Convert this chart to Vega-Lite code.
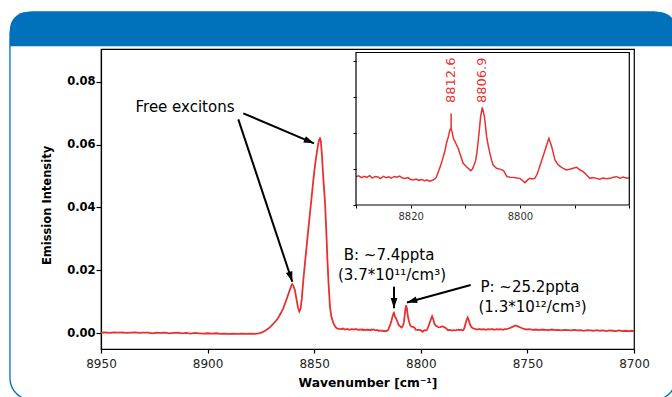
{
  "$schema": "https://vega.github.io/schema/vega-lite/v6.json",
  "width": 533,
  "height": 300,
  "autosize": {"type": "none"},
  "padding": {"left": 101, "top": 49, "right": 38, "bottom": 48},
  "background": "white",
  "config": {
    "font": "DejaVu Sans",
    "view": {"stroke": "black", "strokeWidth": 1.2},
    "axis": {"grid": false, "domainColor": "black", "tickColor": "black"}
  },
  "datasets": {
    "spec": [
      {"w": 8950, "i": 0.0002}, {"w": 8948, "i": 0.0003}, {"w": 8946, "i": 0.0001}, {"w": 8944, "i": 0.0003},
      {"w": 8942, "i": 0.0002}, {"w": 8940, "i": 0.0003}, {"w": 8938, "i": 0.0001}, {"w": 8936, "i": 0.0002},
      {"w": 8934, "i": 0.0003}, {"w": 8932, "i": 0.0001}, {"w": 8930, "i": 0.0002}, {"w": 8928, "i": 0.0002},
      {"w": 8926, "i": 0.0000}, {"w": 8924, "i": 0.0002}, {"w": 8922, "i": 0.0001}, {"w": 8920, "i": 0.0002},
      {"w": 8918, "i": 0.0000}, {"w": 8916, "i": 0.0001}, {"w": 8914, "i": 0.0002}, {"w": 8912, "i": 0.0000},
      {"w": 8910, "i": 0.0001}, {"w": 8908, "i": -0.0001}, {"w": 8906, "i": 0.0001}, {"w": 8904, "i": 0.0000},
      {"w": 8902, "i": -0.0001}, {"w": 8900, "i": 0.0000}, {"w": 8898, "i": -0.0001}, {"w": 8896, "i": 0.0000},
      {"w": 8894, "i": -0.0002}, {"w": 8892, "i": -0.0001}, {"w": 8890, "i": -0.0002}, {"w": 8888, "i": -0.0001},
      {"w": 8886, "i": -0.0002}, {"w": 8884, "i": -0.0001}, {"w": 8882, "i": -0.0002}, {"w": 8880, "i": -0.0001},
      {"w": 8878, "i": -0.0002}, {"w": 8876, "i": 0.0000}, {"w": 8874.5, "i": 0.0003}, {"w": 8873, "i": 0.0008},
      {"w": 8871.5, "i": 0.0015}, {"w": 8870, "i": 0.0024}, {"w": 8868.5, "i": 0.0035}, {"w": 8867, "i": 0.0048},
      {"w": 8865.5, "i": 0.0066}, {"w": 8864.5, "i": 0.0080}, {"w": 8863.5, "i": 0.0098}, {"w": 8862.5, "i": 0.0117},
      {"w": 8861.5, "i": 0.0137}, {"w": 8860.8, "i": 0.0150}, {"w": 8860.3, "i": 0.0156}, {"w": 8859.7, "i": 0.0150},
      {"w": 8859.0, "i": 0.0135}, {"w": 8858.3, "i": 0.0108}, {"w": 8857.6, "i": 0.0082}, {"w": 8857.0, "i": 0.0069},
      {"w": 8856.4, "i": 0.0078}, {"w": 8855.8, "i": 0.0110}, {"w": 8855.1, "i": 0.0170}, {"w": 8854.3, "i": 0.0225},
      {"w": 8853.5, "i": 0.0280}, {"w": 8852.8, "i": 0.0328}, {"w": 8852.0, "i": 0.0380}, {"w": 8851.2, "i": 0.0434},
      {"w": 8850.4, "i": 0.0487}, {"w": 8849.6, "i": 0.0535}, {"w": 8848.8, "i": 0.0574}, {"w": 8848.1, "i": 0.0603},
      {"w": 8847.6, "i": 0.0617}, {"w": 8847.3, "i": 0.0620}, {"w": 8846.9, "i": 0.0612}, {"w": 8846.4, "i": 0.0570},
      {"w": 8845.7, "i": 0.0490}, {"w": 8844.9, "i": 0.0413}, {"w": 8844.3, "i": 0.0320}, {"w": 8843.8, "i": 0.0233},
      {"w": 8843.2, "i": 0.0150}, {"w": 8842.6, "i": 0.0085}, {"w": 8842.0, "i": 0.0055}, {"w": 8841.0, "i": 0.0032},
      {"w": 8840.2, "i": 0.0022}, {"w": 8839.4, "i": 0.0016}, {"w": 8838.5, "i": 0.0014}, {"w": 8837.5, "i": 0.0013},
      {"w": 8836.5, "i": 0.0015}, {"w": 8835.5, "i": 0.0012}, {"w": 8834.5, "i": 0.0014}, {"w": 8833.5, "i": 0.0011},
      {"w": 8832.5, "i": 0.0013}, {"w": 8831.5, "i": 0.0012}, {"w": 8830.5, "i": 0.0014},
      {"w": 8830.0, "i": 0.00116}, {"w": 8829.5, "i": 0.00125}, {"w": 8829.0, "i": 0.00105}, {"w": 8828.5, "i": 0.00120},
      {"w": 8828.0, "i": 0.00108}, {"w": 8827.5, "i": 0.00128}, {"w": 8827.0, "i": 0.00100}, {"w": 8826.5, "i": 0.00118},
      {"w": 8826.0, "i": 0.00112}, {"w": 8825.5, "i": 0.00095}, {"w": 8825.0, "i": 0.00120}, {"w": 8824.5, "i": 0.00105},
      {"w": 8824.0, "i": 0.00115}, {"w": 8823.5, "i": 0.00100}, {"w": 8823.0, "i": 0.00118}, {"w": 8822.5, "i": 0.00110},
      {"w": 8822.0, "i": 0.00122}, {"w": 8821.5, "i": 0.00100}, {"w": 8821.0, "i": 0.00095}, {"w": 8820.5, "i": 0.00105},
      {"w": 8820.0, "i": 0.00085}, {"w": 8819.5, "i": 0.00080}, {"w": 8819.0, "i": 0.00090}, {"w": 8818.5, "i": 0.00075},
      {"w": 8818.0, "i": 0.00085}, {"w": 8817.5, "i": 0.00070}, {"w": 8817.0, "i": 0.00078}, {"w": 8816.5, "i": 0.00065},
      {"w": 8816.0, "i": 0.00075}, {"w": 8815.6, "i": 0.00090}, {"w": 8815.3, "i": 0.00110}, {"w": 8815.0, "i": 0.00160},
      {"w": 8814.6, "i": 0.00227}, {"w": 8814.2, "i": 0.00300}, {"w": 8813.7, "i": 0.00413}, {"w": 8813.4, "i": 0.00500},
      {"w": 8813.1, "i": 0.00562}, {"w": 8812.8, "i": 0.00640}, {"w": 8812.6, "i": 0.00655}, {"w": 8812.4, "i": 0.00610},
      {"w": 8812.2, "i": 0.00543}, {"w": 8811.9, "i": 0.00510}, {"w": 8811.6, "i": 0.00469}, {"w": 8811.3, "i": 0.00430},
      {"w": 8811.0, "i": 0.00376}, {"w": 8810.7, "i": 0.00320}, {"w": 8810.4, "i": 0.00265}, {"w": 8810.0, "i": 0.00240},
      {"w": 8809.7, "i": 0.00220}, {"w": 8809.3, "i": 0.00200}, {"w": 8809.0, "i": 0.00183}, {"w": 8808.7, "i": 0.00200},
      {"w": 8808.4, "i": 0.00246}, {"w": 8808.1, "i": 0.00300}, {"w": 8807.9, "i": 0.00376}, {"w": 8807.7, "i": 0.00480},
      {"w": 8807.5, "i": 0.00599}, {"w": 8807.2, "i": 0.00785}, {"w": 8806.9, "i": 0.00889}, {"w": 8806.5, "i": 0.00785},
      {"w": 8806.1, "i": 0.00562}, {"w": 8805.8, "i": 0.00460}, {"w": 8805.5, "i": 0.00376}, {"w": 8805.2, "i": 0.00300},
      {"w": 8804.9, "i": 0.00246}, {"w": 8804.3, "i": 0.00209}, {"w": 8803.7, "i": 0.00200}, {"w": 8803.0, "i": 0.00183},
      {"w": 8802.7, "i": 0.00150}, {"w": 8802.4, "i": 0.00116}, {"w": 8801.8, "i": 0.00110}, {"w": 8801.2, "i": 0.00108},
      {"w": 8800.6, "i": 0.00100}, {"w": 8800.0, "i": 0.00097}, {"w": 8799.5, "i": 0.00070}, {"w": 8799.1, "i": 0.00049},
      {"w": 8798.6, "i": 0.00080}, {"w": 8798.2, "i": 0.00097}, {"w": 8797.7, "i": 0.00090}, {"w": 8797.3, "i": 0.00097},
      {"w": 8796.9, "i": 0.00140}, {"w": 8796.6, "i": 0.00190}, {"w": 8796.0, "i": 0.00302}, {"w": 8795.4, "i": 0.00413},
      {"w": 8795.0, "i": 0.00490}, {"w": 8794.7, "i": 0.00543}, {"w": 8794.2, "i": 0.00450}, {"w": 8793.6, "i": 0.00302},
      {"w": 8793.0, "i": 0.00246}, {"w": 8792.5, "i": 0.00225}, {"w": 8792.1, "i": 0.00209}, {"w": 8791.5, "i": 0.00190},
      {"w": 8790.9, "i": 0.00198}, {"w": 8790.3, "i": 0.00210}, {"w": 8789.6, "i": 0.00220}, {"w": 8789.0, "i": 0.00190},
      {"w": 8788.5, "i": 0.00175}, {"w": 8788.1, "i": 0.00153}, {"w": 8787.6, "i": 0.00120}, {"w": 8787.2, "i": 0.00097},
      {"w": 8786.6, "i": 0.00105}, {"w": 8786.0, "i": 0.00097}, {"w": 8785.4, "i": 0.00088}, {"w": 8784.8, "i": 0.00100},
      {"w": 8784.2, "i": 0.00092}, {"w": 8783.5, "i": 0.00097}, {"w": 8782.9, "i": 0.00110}, {"w": 8782.3, "i": 0.00116},
      {"w": 8781.7, "i": 0.00100}, {"w": 8781.1, "i": 0.00112}, {"w": 8780.5, "i": 0.00098}, {"w": 8780.0, "i": 0.00105},
      {"w": 8779.5, "i": 0.0018}, {"w": 8779.0, "i": 0.0031}, {"w": 8778.5, "i": 0.0043}, {"w": 8778.0, "i": 0.0050},
      {"w": 8777.5, "i": 0.0041}, {"w": 8777.0, "i": 0.0030}, {"w": 8776.4, "i": 0.0021}, {"w": 8775.6, "i": 0.0016},
      {"w": 8774.6, "i": 0.0014}, {"w": 8773.5, "i": 0.0012}, {"w": 8772.5, "i": 0.0014}, {"w": 8771.5, "i": 0.0012},
      {"w": 8770.5, "i": 0.0013}, {"w": 8769.5, "i": 0.0011}, {"w": 8768.5, "i": 0.0013}, {"w": 8767.5, "i": 0.0012},
      {"w": 8766.5, "i": 0.0014}, {"w": 8765.5, "i": 0.0011}, {"w": 8764.5, "i": 0.0013}, {"w": 8763.5, "i": 0.0012},
      {"w": 8762.5, "i": 0.0013}, {"w": 8761.5, "i": 0.0011}, {"w": 8760.5, "i": 0.0013}, {"w": 8759.5, "i": 0.0014},
      {"w": 8758.5, "i": 0.0016}, {"w": 8757.5, "i": 0.0019}, {"w": 8756.5, "i": 0.0022}, {"w": 8755.5, "i": 0.0025},
      {"w": 8754.5, "i": 0.0022}, {"w": 8753.5, "i": 0.0019}, {"w": 8752.5, "i": 0.0016}, {"w": 8751.5, "i": 0.0014},
      {"w": 8750.5, "i": 0.0012}, {"w": 8749, "i": 0.0013}, {"w": 8747.5, "i": 0.0011}, {"w": 8746, "i": 0.0012},
      {"w": 8744.5, "i": 0.0010}, {"w": 8743, "i": 0.0012}, {"w": 8741.5, "i": 0.0011}, {"w": 8740, "i": 0.0010},
      {"w": 8738.5, "i": 0.0012}, {"w": 8737, "i": 0.0010}, {"w": 8735.5, "i": 0.0011}, {"w": 8734, "i": 0.0009},
      {"w": 8732.5, "i": 0.0011}, {"w": 8731, "i": 0.0010}, {"w": 8729.5, "i": 0.0009}, {"w": 8728, "i": 0.0011},
      {"w": 8726.5, "i": 0.0009}, {"w": 8725, "i": 0.0010}, {"w": 8723.5, "i": 0.0008}, {"w": 8722, "i": 0.0010},
      {"w": 8720.5, "i": 0.0009}, {"w": 8719, "i": 0.0008}, {"w": 8717.5, "i": 0.0010}, {"w": 8716, "i": 0.0008},
      {"w": 8714.5, "i": 0.0009}, {"w": 8713, "i": 0.0007}, {"w": 8711.5, "i": 0.0009}, {"w": 8710, "i": 0.0008},
      {"w": 8708.5, "i": 0.0007}, {"w": 8707, "i": 0.0009}, {"w": 8705.5, "i": 0.0007}, {"w": 8704, "i": 0.0008},
      {"w": 8702.5, "i": 0.0007}, {"w": 8701, "i": 0.0008}, {"w": 8700, "i": 0.0007}
    ],
    "card": [{"w": 8992.7, "w2": 8680.3, "i": 0.1022, "i2": -0.0212}],
    "header": [{"w": 8992.7, "w2": 8680.3, "i": 0.1022, "i2": 0.0913}],
    "arrows": [
      {"k": "a1", "w": 8883.25, "i": 0.06995, "w2": 8850.1, "i2": 0.0604},
      {"k": "a2", "w": 8885.6, "i": 0.06804, "w2": 8860.27, "i2": 0.0164},
      {"k": "a3", "w": 8812.57, "i": 0.01482, "w2": 8812.57, "i2": 0.00795},
      {"k": "a4", "w": 8776.6, "i": 0.01536, "w2": 8806.5, "i2": 0.00979}
    ],
    "notes": [
      {"w": 8910.6, "i": 0.0719, "t": "Free excitons"},
      {"w": 8814.9, "i": 0.0249, "t": "B: ~7.4ppta"},
      {"w": 8813.5, "i": 0.01854, "t": "(3.7*10¹¹/cm³)"},
      {"w": 8748.8, "i": 0.01463, "t": "P: ~25.2ppta"},
      {"w": 8747.6, "i": 0.00827, "t": "(1.3*10¹²/cm³)"}
    ],
    "insetFrame": [{"w": 8830, "w2": 8780, "i": -0.002, "i2": 0.015}],
    "insetTick": [{"w": 8812.6, "i": 0.0065, "i2": 0.0082}],
    "insetLabels": [
      {"w": 8812.6, "i": 0.00937, "t": "8812.6"},
      {"w": 8806.9, "i": 0.00937, "t": "8806.9"}
    ]
  },
  "layer": [
    {
      "layer": [
        {
          "data": {"name": "spec"},
          "mark": {"type": "line", "color": "#e8312f", "strokeWidth": 1.8},
          "encoding": {
            "x": {
              "field": "w", "type": "quantitative",
              "scale": {"domain": [8950, 8700], "nice": false, "zero": false},
              "axis": {
                "values": [8950, 8900, 8850, 8800, 8750, 8700], "format": "d", "labelFlush": false,
                "tickSize": 4, "tickWidth": 1.2, "domainWidth": 1.2,
                "labelFontSize": 12, "labelColor": "#222", "labelPadding": 5,
                "title": "Wavenumber [cm⁻¹]", "titleFontSize": 12.3, "titleFontWeight": "bold",
                "titleColor": "black", "titleBaseline": "alphabetic", "titleY": 37.5
              }
            },
            "y": {
              "field": "i", "type": "quantitative",
              "scale": {"domain": [-0.005, 0.0904], "nice": false, "zero": false},
              "axis": {
                "values": [0, 0.02, 0.04, 0.06, 0.08], "format": ".2f",
                "tickSize": 5, "tickWidth": 1.2, "domainWidth": 1.2,
                "labelFontSize": 11.5, "labelFontWeight": "bold", "labelColor": "black", "labelPadding": 1,
                "title": "Emission Intensity", "titleFontSize": 11.5, "titleFontWeight": "bold",
                "titleColor": "black", "titleX": -54, "titleY": 156, "titleAngle": 270,
                "titleAlign": "center", "titleBaseline": "middle"
              }
            }
          }
        },
        {
          "data": {"name": "card"},
          "mark": {"type": "rect", "filled": false, "stroke": "#0072bc", "strokeWidth": 1.3, "cornerRadius": 22},
          "encoding": {
            "x": {"field": "w", "type": "quantitative", "scale": {"domain": [8950, 8700], "nice": false, "zero": false}},
            "x2": {"field": "w2"},
            "y": {"field": "i", "type": "quantitative", "scale": {"domain": [-0.005, 0.0904], "nice": false, "zero": false}},
            "y2": {"field": "i2"}
          }
        },
        {
          "data": {"name": "header"},
          "mark": {"type": "rect", "fill": "#0072bc", "cornerRadiusTopLeft": 22, "cornerRadiusTopRight": 22},
          "encoding": {
            "x": {"field": "w", "type": "quantitative", "scale": {"domain": [8950, 8700], "nice": false, "zero": false}},
            "x2": {"field": "w2"},
            "y": {"field": "i", "type": "quantitative", "scale": {"domain": [-0.005, 0.0904], "nice": false, "zero": false}},
            "y2": {"field": "i2"}
          }
        },
        {
          "data": {"name": "arrows"},
          "mark": {"type": "rule", "color": "black", "strokeWidth": 2},
          "encoding": {
            "x": {"field": "w", "type": "quantitative", "scale": {"domain": [8950, 8700], "nice": false, "zero": false}},
            "x2": {"field": "w2"},
            "y": {"field": "i", "type": "quantitative", "scale": {"domain": [-0.005, 0.0904], "nice": false, "zero": false}},
            "y2": {"field": "i2"}
          }
        },
        {
          "data": {"name": "arrows"},
          "transform": [{"filter": "datum.k == 'a1'"}],
          "mark": {"type": "point", "shape": "M0,0L-0.8,2.4L0.8,2.4Z", "filled": true, "color": "black", "size": 72, "angle": 113, "opacity": 1},
          "encoding": {
            "x": {"field": "w2", "type": "quantitative", "scale": {"domain": [8950, 8700], "nice": false, "zero": false}},
            "y": {"field": "i2", "type": "quantitative", "scale": {"domain": [-0.005, 0.0904], "nice": false, "zero": false}}
          }
        },
        {
          "data": {"name": "arrows"},
          "transform": [{"filter": "datum.k == 'a2'"}],
          "mark": {"type": "point", "shape": "M0,0L-0.8,2.4L0.8,2.4Z", "filled": true, "color": "black", "size": 72, "angle": 161.6, "opacity": 1},
          "encoding": {
            "x": {"field": "w2", "type": "quantitative", "scale": {"domain": [8950, 8700], "nice": false, "zero": false}},
            "y": {"field": "i2", "type": "quantitative", "scale": {"domain": [-0.005, 0.0904], "nice": false, "zero": false}}
          }
        },
        {
          "data": {"name": "arrows"},
          "transform": [{"filter": "datum.k == 'a3'"}],
          "mark": {"type": "point", "shape": "M0,0L-0.8,2.4L0.8,2.4Z", "filled": true, "color": "black", "size": 72, "angle": 180, "opacity": 1},
          "encoding": {
            "x": {"field": "w2", "type": "quantitative", "scale": {"domain": [8950, 8700], "nice": false, "zero": false}},
            "y": {"field": "i2", "type": "quantitative", "scale": {"domain": [-0.005, 0.0904], "nice": false, "zero": false}}
          }
        },
        {
          "data": {"name": "arrows"},
          "transform": [{"filter": "datum.k == 'a4'"}],
          "mark": {"type": "point", "shape": "M0,0L-0.8,2.4L0.8,2.4Z", "filled": true, "color": "black", "size": 72, "angle": 254.6, "opacity": 1},
          "encoding": {
            "x": {"field": "w2", "type": "quantitative", "scale": {"domain": [8950, 8700], "nice": false, "zero": false}},
            "y": {"field": "i2", "type": "quantitative", "scale": {"domain": [-0.005, 0.0904], "nice": false, "zero": false}}
          }
        },
        {
          "data": {"name": "notes"},
          "mark": {"type": "text", "fontSize": 15, "color": "black", "align": "center", "baseline": "middle"},
          "encoding": {
            "x": {"field": "w", "type": "quantitative", "scale": {"domain": [8950, 8700], "nice": false, "zero": false}},
            "y": {"field": "i", "type": "quantitative", "scale": {"domain": [-0.005, 0.0904], "nice": false, "zero": false}},
            "text": {"field": "t"}
          }
        }
      ]
    },
    {
      "layer": [
        {
          "data": {"name": "spec"},
          "transform": [{"filter": "datum.w <= 8830 && datum.w >= 8780"}],
          "mark": {"type": "line", "color": "#e8312f", "strokeWidth": 1.5},
          "encoding": {
            "x": {
              "field": "w", "type": "quantitative",
              "scale": {"domain": [8830, 8780], "range": [255, 528.3], "nice": false, "zero": false},
              "axis": {
                "orient": "bottom", "offset": -144, "values": [8830, 8820, 8810, 8800, 8790, 8780], "format": "d",
                "labelExpr": "datum.value == 8820 || datum.value == 8800 ? datum.label : ''",
                "labelFlush": false, "domain": false, "tickSize": 3, "tickWidth": 1,
                "labelFontSize": 10, "labelColor": "#333", "labelPadding": 3, "title": null
              }
            },
            "y": {
              "field": "i", "type": "quantitative",
              "scale": {"domain": [-0.002, 0.015], "range": [156, 3.5], "nice": false, "zero": false},
              "axis": {
                "orient": "left", "offset": -255, "values": [-0.002, 0, 0.002, 0.004, 0.006, 0.008, 0.01, 0.012, 0.014],
                "labels": false, "domain": false, "tickSize": 3, "tickWidth": 1, "title": null
              }
            }
          }
        },
        {
          "data": {"name": "insetFrame"},
          "mark": {"type": "rect", "filled": false, "stroke": "black", "strokeWidth": 1.2},
          "encoding": {
            "x": {"field": "w", "type": "quantitative", "scale": {"domain": [8830, 8780], "range": [255, 528.3], "nice": false, "zero": false}},
            "x2": {"field": "w2"},
            "y": {"field": "i", "type": "quantitative", "scale": {"domain": [-0.002, 0.015], "range": [156, 3.5], "nice": false, "zero": false}},
            "y2": {"field": "i2"}
          }
        },
        {
          "data": {"name": "insetTick"},
          "mark": {"type": "rule", "color": "#e8312f", "strokeWidth": 1.5},
          "encoding": {
            "x": {"field": "w", "type": "quantitative", "scale": {"domain": [8830, 8780], "range": [255, 528.3], "nice": false, "zero": false}},
            "y": {"field": "i", "type": "quantitative", "scale": {"domain": [-0.002, 0.015], "range": [156, 3.5], "nice": false, "zero": false}},
            "y2": {"field": "i2"}
          }
        },
        {
          "data": {"name": "insetLabels"},
          "mark": {"type": "text", "fontSize": 13, "color": "#e8312f", "angle": 270, "align": "left", "baseline": "middle"},
          "encoding": {
            "x": {"field": "w", "type": "quantitative", "scale": {"domain": [8830, 8780], "range": [255, 528.3], "nice": false, "zero": false}},
            "y": {"field": "i", "type": "quantitative", "scale": {"domain": [-0.002, 0.015], "range": [156, 3.5], "nice": false, "zero": false}},
            "text": {"field": "t"}
          }
        }
      ]
    }
  ],
  "resolve": {"scale": {"x": "independent", "y": "independent"}}
}
